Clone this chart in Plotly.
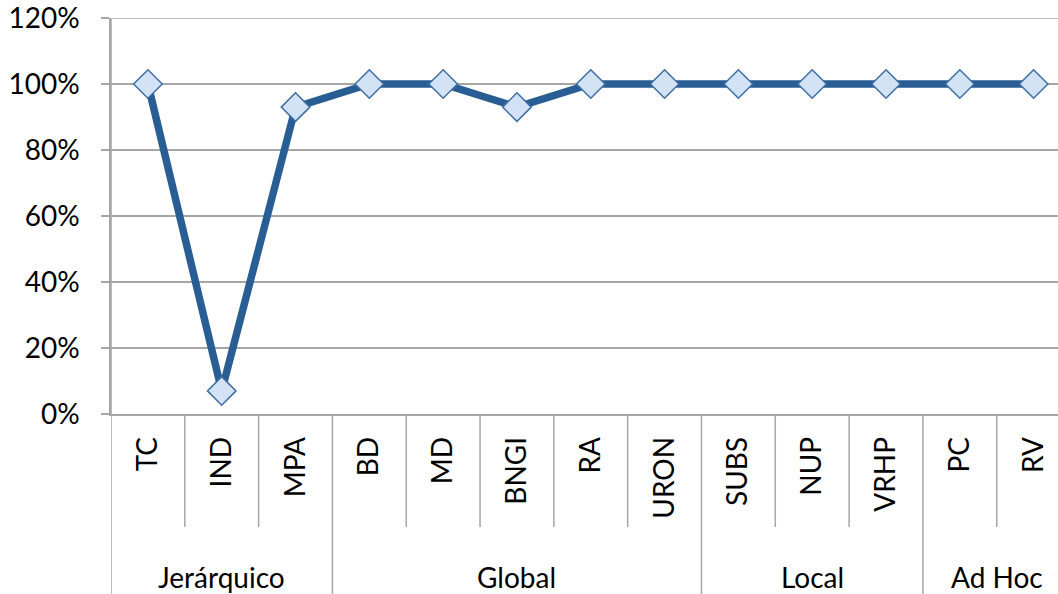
import plotly.graph_objects as go

categories = ["TC", "IND", "MPA", "BD", "MD", "BNGI", "RA", "URON",
              "SUBS", "NUP", "VRHP", "PC", "RV"]
groups = ["Jerárquico", "Jerárquico", "Jerárquico",
          "Global", "Global", "Global", "Global", "Global",
          "Local", "Local", "Local",
          "Ad Hoc", "Ad Hoc"]
values = [100, 7, 93, 100, 100, 93, 100, 100, 100, 100, 100, 100, 100]
y_ticks = [0, 20, 40, 60, 80, 100, 120]

FONT = "Lato, 'Open Sans', sans-serif"
GRID = "#A6A6A6"
W, H = 1058, 594
ML, MT, MB = 111, 18, 180
plot_h = H - MT - MB

xs = list(range(len(categories)))

fig = go.Figure()
fig.add_trace(go.Scatter(
    x=xs, y=values, mode="lines+markers",
    line=dict(color="#285E93", width=7.5),
    marker=dict(symbol="diamond", size=22, color="#D3E2F4",
                line=dict(color="#3D6FA3", width=1.5)),
    hoverinfo="skip", showlegend=False, cliponaxis=False,
))

def py_to_paper(py):
    return (H - MB - py) / plot_h

shapes = []
for k in range(len(categories) - 1):
    if groups[k] != groups[k + 1]:
        continue
    shapes.append(dict(type="line", xref="x", yref="paper",
                       x0=k + 0.5, x1=k + 0.5, y0=0, y1=py_to_paper(527),
                       line=dict(color=GRID, width=1.5)))
bounds = [-0.5] + [k + 0.5 for k in range(len(categories) - 1) if groups[k] != groups[k + 1]]
for b in bounds:
    shapes.append(dict(type="line", xref="x", yref="paper",
                       x0=b, x1=b, y0=1 if b == -0.5 else 0, y1=py_to_paper(H),
                       line=dict(color=GRID, width=1.5)))
# top gridline (range edge) drawn through the y scale
shapes.append(dict(type="line", xref="paper", yref="y", layer="below",
                   x0=-8 / (W - ML), x1=1, y0=y_ticks[-1], y1=y_ticks[-1],
                   line=dict(color=GRID, width=1.5)))

annotations = []
start = 0
for k in range(1, len(categories) + 1):
    if k == len(categories) or groups[k] != groups[start]:
        annotations.append(dict(
            x=(start + k - 1) / 2, y=py_to_paper(577), xref="x", yref="paper",
            text=groups[start], showarrow=False,
            font=dict(family=FONT, size=28, color="#000000"),
            xanchor="center", yanchor="middle"))
        start = k

fig.update_layout(
    width=W, height=H,
    margin=dict(l=ML, r=0, t=MT, b=MB, pad=0),
    paper_bgcolor="white", plot_bgcolor="white",
    shapes=shapes, annotations=annotations,
    xaxis=dict(
        range=[-0.5, 12.33], tickmode="array", tickvals=xs, ticktext=categories,
        tickangle=-90, tickfont=dict(family=FONT, size=28, color="#000000"),
        showgrid=False, zeroline=False, showline=True, linecolor=GRID, linewidth=1.5,
        ticks="", ticklabelstandoff=10,
    ),
    yaxis=dict(
        range=[0, 120], tickmode="array", tickvals=y_ticks,
        ticktext=[f"{v}%" for v in y_ticks],
        tickfont=dict(family=FONT, size=28, color="#000000"),
        showgrid=True, gridcolor=GRID, gridwidth=1.5,
        zeroline=False, showline=True, linecolor=GRID, linewidth=1.5,
        ticks="outside", ticklen=8, tickcolor=GRID, tickwidth=1.5,
        ticklabelstandoff=16, ticklabeloverflow="allow",
    ),
)

fig.write_html("out.html", config={"displayModeBar": False},
               post_script="document.body.style.margin='0';")
